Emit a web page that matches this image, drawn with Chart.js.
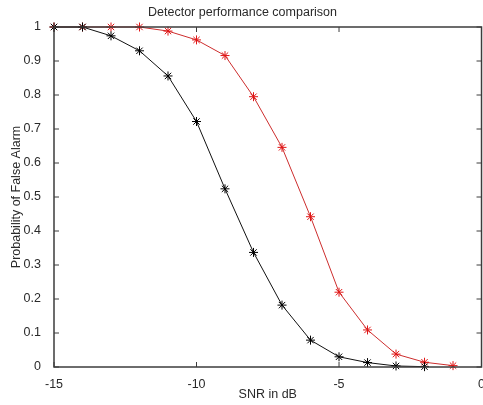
<!DOCTYPE html>
<html lang="en">
  <head>
    <meta charset="utf-8" />
    <title>Detector performance comparison</title>
    <script src="https://cdn.jsdelivr.net/npm/chart.js/dist/chart.umd.min.js"></script>
    <style>
      * {
        margin: 0;
        padding: 0;
      }
      body {
        background: #fff;
        overflow: hidden;
      }
      .chartBox {
        width: 487px;
        height: 405px;
      }
    </style>
  </head>
  <body>
    <div class="chartBox">
      <canvas id="myChart"></canvas>
    </div>

    <script>
      // data
      const snrDb = [-15, -14, -13, -12, -11, -10, -9, -8, -7, -6, -5, -4, -3, -2, -1];
      const pfaBlack = [1, 1, 0.974, 0.93, 0.856, 0.722, 0.524, 0.337, 0.182, 0.079, 0.03, 0.013, 0.003, 0.001, null];
      const pfaRed = [1, 1, 1, 1, 0.988, 0.962, 0.916, 0.795, 0.646, 0.442, 0.22, 0.109, 0.038, 0.014, 0.004];
      const xTicks = [-15, -10, -5, 0];
      const yTicks = [0, 0.1, 0.2, 0.3, 0.4, 0.5, 0.6, 0.7, 0.8, 0.9, 1];

      const font = { family: "'Liberation Sans', Arial, sans-serif", size: 12.5 };

      // matlab style box with inward ticks
      const axesBox = {
        id: "axesBox",
        afterDraw(chart) {
          const { ctx, chartArea: a, scales } = chart;
          const len = 5;
          ctx.save();
          ctx.strokeStyle = "#3c3c3c";
          ctx.lineWidth = 1.5;
          ctx.strokeRect(a.left, a.top, a.right - a.left, a.bottom - a.top);
          ctx.lineWidth = 1;
          ctx.beginPath();
          xTicks.forEach((v) => {
            const px = scales.x.getPixelForValue(v);
            ctx.moveTo(px, a.bottom);
            ctx.lineTo(px, a.bottom - len);
            ctx.moveTo(px, a.top);
            ctx.lineTo(px, a.top + len);
          });
          yTicks.forEach((v) => {
            const py = scales.y.getPixelForValue(v);
            ctx.moveTo(a.left, py);
            ctx.lineTo(a.left + len, py);
            ctx.moveTo(a.right, py);
            ctx.lineTo(a.right - len, py);
          });
          ctx.stroke();
          ctx.restore();
        },
      };

      const data = {
        datasets: [
          {
            label: "black",
            data: snrDb.map((x, i) => ({ x, y: pfaBlack[i] })),
            borderColor: "#111",
            backgroundColor: "#111",
            borderWidth: 1,
            pointStyle: "star",
            pointRadius: 4.5,
            pointBorderWidth: 1,
            pointBorderColor: "#000",
            clip: false,
          },
          {
            label: "red",
            data: snrDb.map((x, i) => ({ x, y: pfaRed[i] })),
            borderColor: "rgb(205,45,45)",
            backgroundColor: "rgb(205,45,45)",
            borderWidth: 1,
            pointStyle: "star",
            pointRadius: 4.5,
            pointBorderWidth: 1,
            pointBorderColor: "#e01515",
            clip: false,
          },
        ],
      };

      const config = {
        type: "line",
        data,
        options: {
          animation: false,
          responsive: true,
          maintainAspectRatio: false,
          layout: { autoPadding: false, padding: { right: 2 } },
          plugins: {
            legend: { display: false },
            tooltip: { enabled: false },
            title: {
              display: true,
              text: "Detector performance comparison",
              color: "#2a2a2a",
              font: { ...font, weight: "normal" },
              padding: { top: 5, bottom: 7 },
            },
          },
          scales: {
            x: {
              type: "linear",
              min: -15,
              max: 0,
              grid: { display: false },
              border: { display: false },
              ticks: {
                stepSize: 5,
                autoSkip: false,
                maxRotation: 0,
                padding: 2,
                color: "#2a2a2a",
                font,
              },
              title: {
                display: true,
                text: "SNR in dB",
                color: "#2a2a2a",
                font,
                padding: { top: 0, bottom: 2.5 },
              },
              afterFit(scale) {
                scale.height = 38;
              },
            },
            y: {
              min: 0,
              max: 1,
              grid: { display: false },
              border: { display: false },
              ticks: {
                stepSize: 0.1,
                padding: 5,
                color: "#2a2a2a",
                font,
                callback: (v) => String(Math.round(v * 10) / 10),
              },
              title: {
                display: true,
                text: "Probability of False Alarm",
                color: "#2a2a2a",
                font,
                padding: { top: 9.5, bottom: 0 },
              },
              afterFit(scale) {
                scale.width = 54;
              },
            },
          },
        },
        plugins: [axesBox],
      };

      const myChart = new Chart(document.getElementById("myChart"), config);
    </script>
  </body>
</html>
